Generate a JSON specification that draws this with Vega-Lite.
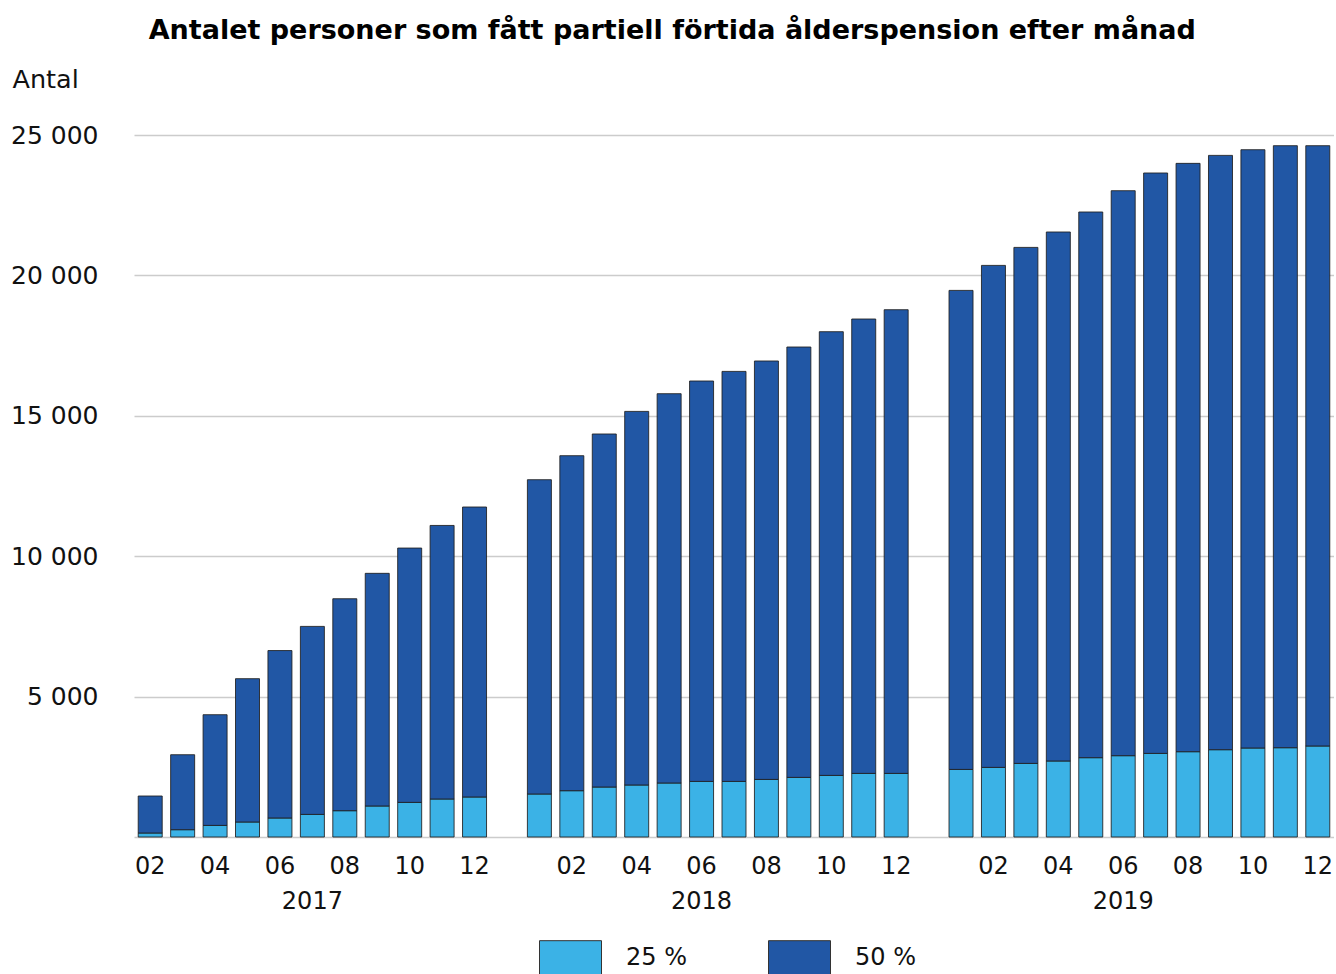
{
  "$schema": "https://vega.github.io/schema/vega-lite/v6.json",
  "width": 1200,
  "height": 702,
  "padding": {"left": 10, "top": 17, "right": 0, "bottom": 0},
  "background": "white",
  "title": {
    "text": "Antalet personer som fått partiell förtida ålderspension efter månad",
    "anchor": "middle",
    "frame": "bounds",
    "font": "DejaVu Sans",
    "fontSize": 27,
    "fontWeight": "bold",
    "color": "#000000",
    "offset": 22
  },
  "config": {
    "view": {"stroke": null},
    "axis": {"labelFont": "DejaVu Sans", "titleFont": "DejaVu Sans", "labelColor": "#111111", "titleColor": "#111111"},
    "legend": {"labelFont": "DejaVu Sans", "labelColor": "#111111"}
  },
  "data": {
    "values": [
      {"period": "2017-02", "series": "25 %", "value": 142}, {"period": "2017-02", "series": "50 %", "value": 1318},
      {"period": "2017-03", "series": "25 %", "value": 260}, {"period": "2017-03", "series": "50 %", "value": 2670},
      {"period": "2017-04", "series": "25 %", "value": 413}, {"period": "2017-04", "series": "50 %", "value": 3942},
      {"period": "2017-05", "series": "25 %", "value": 534}, {"period": "2017-05", "series": "50 %", "value": 5104},
      {"period": "2017-06", "series": "25 %", "value": 677}, {"period": "2017-06", "series": "50 %", "value": 5963},
      {"period": "2017-07", "series": "25 %", "value": 805}, {"period": "2017-07", "series": "50 %", "value": 6695},
      {"period": "2017-08", "series": "25 %", "value": 937}, {"period": "2017-08", "series": "50 %", "value": 7548},
      {"period": "2017-09", "series": "25 %", "value": 1104}, {"period": "2017-09", "series": "50 %", "value": 8286},
      {"period": "2017-10", "series": "25 %", "value": 1233}, {"period": "2017-10", "series": "50 %", "value": 9057},
      {"period": "2017-11", "series": "25 %", "value": 1353}, {"period": "2017-11", "series": "50 %", "value": 9742},
      {"period": "2017-12", "series": "25 %", "value": 1425}, {"period": "2017-12", "series": "50 %", "value": 10327},
      {"period": "2018-01", "series": "25 %", "value": 1531}, {"period": "2018-01", "series": "50 %", "value": 11193},
      {"period": "2018-02", "series": "25 %", "value": 1649}, {"period": "2018-02", "series": "50 %", "value": 11930},
      {"period": "2018-03", "series": "25 %", "value": 1780}, {"period": "2018-03", "series": "50 %", "value": 12572},
      {"period": "2018-04", "series": "25 %", "value": 1852}, {"period": "2018-04", "series": "50 %", "value": 13305},
      {"period": "2018-05", "series": "25 %", "value": 1923}, {"period": "2018-05", "series": "50 %", "value": 13864},
      {"period": "2018-06", "series": "25 %", "value": 1980}, {"period": "2018-06", "series": "50 %", "value": 14259},
      {"period": "2018-07", "series": "25 %", "value": 1980}, {"period": "2018-07", "series": "50 %", "value": 14601},
      {"period": "2018-08", "series": "25 %", "value": 2051}, {"period": "2018-08", "series": "50 %", "value": 14901},
      {"period": "2018-09", "series": "25 %", "value": 2123}, {"period": "2018-09", "series": "50 %", "value": 15327},
      {"period": "2018-10", "series": "25 %", "value": 2194}, {"period": "2018-10", "series": "50 %", "value": 15801},
      {"period": "2018-11", "series": "25 %", "value": 2265}, {"period": "2018-11", "series": "50 %", "value": 16182},
      {"period": "2018-12", "series": "25 %", "value": 2265}, {"period": "2018-12", "series": "50 %", "value": 16513},
      {"period": "2019-01", "series": "25 %", "value": 2407}, {"period": "2019-01", "series": "50 %", "value": 17059},
      {"period": "2019-02", "series": "25 %", "value": 2479}, {"period": "2019-02", "series": "50 %", "value": 17877},
      {"period": "2019-03", "series": "25 %", "value": 2621}, {"period": "2019-03", "series": "50 %", "value": 18376},
      {"period": "2019-04", "series": "25 %", "value": 2707}, {"period": "2019-04", "series": "50 %", "value": 18839},
      {"period": "2019-05", "series": "25 %", "value": 2825}, {"period": "2019-05", "series": "50 %", "value": 19433},
      {"period": "2019-06", "series": "25 %", "value": 2896}, {"period": "2019-06", "series": "50 %", "value": 20120},
      {"period": "2019-07", "series": "25 %", "value": 2977}, {"period": "2019-07", "series": "50 %", "value": 20670},
      {"period": "2019-08", "series": "25 %", "value": 3038}, {"period": "2019-08", "series": "50 %", "value": 20952},
      {"period": "2019-09", "series": "25 %", "value": 3109}, {"period": "2019-09", "series": "50 %", "value": 21165},
      {"period": "2019-10", "series": "25 %", "value": 3169}, {"period": "2019-10", "series": "50 %", "value": 21307},
      {"period": "2019-11", "series": "25 %", "value": 3180}, {"period": "2019-11", "series": "50 %", "value": 21439},
      {"period": "2019-12", "series": "25 %", "value": 3241}, {"period": "2019-12", "series": "50 %", "value": 21378}
    ]
  },
  "mark": {"type": "bar", "stroke": "#1e1e1e", "strokeWidth": 1, "strokeOpacity": 0.85},
  "encoding": {
    "x": {
      "field": "period",
      "type": "nominal",
      "sort": null,
      "scale": {
        "domain": ["2017-02","2017-03","2017-04","2017-05","2017-06","2017-07","2017-08","2017-09","2017-10","2017-11","2017-12","gap1",
                   "2018-01","2018-02","2018-03","2018-04","2018-05","2018-06","2018-07","2018-08","2018-09","2018-10","2018-11","2018-12","gap2",
                   "2019-01","2019-02","2019-03","2019-04","2019-05","2019-06","2019-07","2019-08","2019-09","2019-10","2019-11","2019-12"],
        "paddingInner": 0.26,
        "paddingOuter": 0.13
      },
      "axis": {
        "title": null,
        "domain": false,
        "ticks": false,
        "grid": false,
        "labelAngle": 0,
        "labelFontSize": 24,
        "labelLineHeight": 35,
        "labelPadding": 17,
        "labelOverlap": false,
        "labelBound": false,
        "labelExpr": "indexof(datum.value, 'gap') >= 0 ? '' : [ (parseInt(substring(datum.value, 5, 7)) % 2 == 0 ? substring(datum.value, 5, 7) : ''), ((datum.value == '2017-07' || datum.value == '2018-06' || datum.value == '2019-06') ? substring(datum.value, 0, 4) : '') ]"
      }
    },
    "y": {
      "field": "value",
      "type": "quantitative",
      "stack": "zero",
      "scale": {"domain": [0, 25000], "nice": false},
      "axis": {
        "title": "Antal",
        "titleAngle": 0,
        "titleAlign": "left",
        "titleBaseline": "middle",
        "titleX": -122,
        "titleY": -56,
        "titleFontSize": 25.5,
        "titleFontWeight": "normal",
        "values": [0, 5000, 10000, 15000, 20000, 25000],
        "labelExpr": "datum.value == 0 ? '' : replace(format(datum.value, ','), ',', ' ')",
        "labelFontSize": 25,
        "labelPadding": 36,
        "ticks": false,
        "domain": false,
        "grid": true,
        "gridColor": "#cccccc",
        "gridWidth": 1.5
      }
    },
    "color": {
      "field": "series",
      "type": "nominal",
      "scale": {"domain": ["25 %", "50 %"], "range": ["#3BB2E6", "#2157A5"]},
      "legend": {
        "title": null,
        "orient": "none",
        "legendX": 405,
        "legendY": 791,
        "direction": "horizontal",
        "columns": 2,
        "symbolType": "M-1,-0.55H1V0.55H-1Z",
        "symbolSize": 3844,
        "symbolStrokeColor": "#333333",
        "symbolStrokeWidth": 1,
        "symbolOpacity": 1,
        "labelFontSize": 24,
        "labelOffset": 24,
        "columnPadding": 79,
        "padding": 0
      }
    },
    "order": {"field": "series", "sort": "ascending"}
  }
}
